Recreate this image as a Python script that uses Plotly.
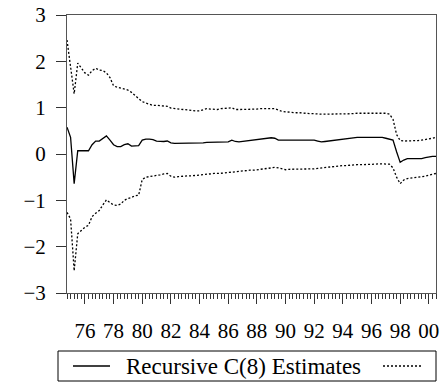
import plotly.graph_objects as go

# ---- data (quarterly, 1974Q4 .. 2000Q3) ----
start_year = 1974.75
recursive_c8 = [
    0.58, 0.36, -0.64, 0.07, 0.07, 0.07, 0.07, 0.20, 0.28, 0.28,
    0.33, 0.39, 0.30, 0.20, 0.16, 0.16, 0.20, 0.22, 0.17, 0.17,
    0.18, 0.30, 0.32, 0.32, 0.31, 0.28, 0.27, 0.27, 0.28, 0.24,
    0.23, 0.23, 0.23, 0.23, 0.23, 0.23, 0.23, 0.23, 0.24, 0.25,
    0.25, 0.26, 0.26, 0.26, 0.26, 0.26, 0.30, 0.27, 0.26, 0.27,
    0.28, 0.30, 0.31, 0.32, 0.32, 0.33, 0.34, 0.35, 0.34, 0.30,
    0.30, 0.30, 0.30, 0.30, 0.30, 0.30, 0.30, 0.30, 0.30, 0.30,
    0.28, 0.26, 0.27, 0.28, 0.29, 0.30, 0.31, 0.33, 0.34, 0.35,
    0.36, 0.36, 0.36, 0.36, 0.37, 0.37, 0.37, 0.37, 0.36, 0.34,
    0.32, 0.30, 0.05, -0.18, -0.13, -0.10, -0.10, -0.10, -0.10, -0.10,
    -0.08, -0.06, -0.05, -0.05,
]
upper_2se = [
    2.46, 1.90, 1.30, 1.96, 1.85, 1.75, 1.70, 1.80, 1.85, 1.81,
    1.80, 1.75, 1.65, 1.47, 1.44, 1.42, 1.40, 1.38, 1.33, 1.27,
    1.20, 1.13, 1.10, 1.07, 1.05, 1.05, 1.04, 1.03, 1.03, 0.99,
    0.98, 0.97, 0.97, 0.96, 0.95, 0.94, 0.93, 0.93, 0.95, 0.98,
    0.97, 0.96, 0.96, 0.98, 0.98, 0.99, 1.00, 0.96, 0.96, 0.96,
    0.97, 0.97, 0.97, 0.97, 0.98, 0.98, 0.98, 0.98, 0.98, 0.95,
    0.92, 0.91, 0.90, 0.90, 0.89, 0.89, 0.88, 0.88, 0.87, 0.87,
    0.86, 0.86, 0.86, 0.86, 0.86, 0.86, 0.87, 0.87, 0.87, 0.87,
    0.87, 0.88, 0.88, 0.88, 0.88, 0.89, 0.89, 0.89, 0.89, 0.88,
    0.86, 0.75, 0.42, 0.29, 0.28, 0.28, 0.28, 0.29, 0.29, 0.30,
    0.31, 0.33, 0.34, 0.36,
]
lower_2se = [
    -1.26, -1.40, -2.52, -1.72, -1.65, -1.58, -1.54, -1.35, -1.28, -1.22,
    -1.10, -0.99, -1.05, -1.10, -1.11, -1.08, -1.00, -0.96, -0.94, -0.90,
    -0.89, -0.55, -0.50, -0.49, -0.48, -0.47, -0.45, -0.43, -0.42, -0.48,
    -0.50, -0.49, -0.48, -0.48, -0.47, -0.47, -0.46, -0.46, -0.45, -0.44,
    -0.43, -0.42, -0.42, -0.42, -0.41, -0.40, -0.39, -0.38, -0.37, -0.37,
    -0.36, -0.35, -0.35, -0.34, -0.33, -0.32, -0.31, -0.30, -0.29, -0.30,
    -0.32, -0.34, -0.33, -0.33, -0.33, -0.33, -0.32, -0.32, -0.32, -0.32,
    -0.31, -0.30, -0.30, -0.29, -0.28, -0.27, -0.26, -0.25, -0.25, -0.24,
    -0.24, -0.23, -0.23, -0.23, -0.22, -0.22, -0.22, -0.21, -0.21, -0.21,
    -0.22, -0.30, -0.50, -0.64, -0.56, -0.53, -0.52, -0.51, -0.50, -0.50,
    -0.48, -0.46, -0.44, -0.42,
]
year_ticks = list(range(1975, 2001))
year_labels = ["76", "78", "80", "82", "84", "86", "88", "90", "92", "94", "96", "98", "00"]
y_ticks = [-3, -2, -1, 0, 1, 2, 3]
legend_label = "Recursive C(8) Estimates"

n = len(recursive_c8)
x = [start_year + 0.25 * i for i in range(n)]
quarter_ticks = [start_year + 0.25 * i for i in range(n)]
label_map = {1976 + 2 * k: lab for k, lab in enumerate(year_labels)}
tick_text = [label_map.get(y, "") for y in year_ticks]
x_range = [start_year, start_year + 0.25 * (n - 1)]

FONT = "Liberation Serif"
W, H = 447, 383
ML, MR, MT, MB = 67, 11, 15, 90
PW, PH = W - ML - MR, H - MT - MB


def px(xp):
    return (xp - ML) / PW


def py(yp):
    return (H - MB - yp) / PH


fig = go.Figure()
fig.add_trace(go.Scatter(
    x=x, y=recursive_c8, mode="lines", name=legend_label,
    line=dict(color="black", width=1.3),
))
fig.add_trace(go.Scatter(
    x=x, y=upper_2se, mode="lines", name="+2 S.E.",
    line=dict(color="black", width=1.3, dash="2px,2px"),
))
fig.add_trace(go.Scatter(
    x=x, y=lower_2se, mode="lines", name="-2 S.E.",
    line=dict(color="black", width=1.3, dash="2px,2px"),
))

# legend box drawn to mimic the EViews legend
shapes = [
    dict(type="rect", xref="paper", yref="paper",
         x0=px(58), x1=px(436), y0=py(351), y1=py(381),
         line=dict(color="black", width=1)),
    dict(type="line", xref="paper", yref="paper",
         x0=px(73), x1=px(110), y0=py(366), y1=py(366),
         line=dict(color="black", width=1.3)),
    dict(type="line", xref="paper", yref="paper",
         x0=px(383), x1=px(423), y0=py(366), y1=py(366),
         line=dict(color="black", width=1.3, dash="2px,2px")),
]
annotations = [
    dict(text=legend_label, xref="paper", yref="paper",
         x=px(124), y=py(366), xanchor="left", yanchor="middle",
         showarrow=False, font=dict(family=FONT, size=23, color="black")),
]

fig.update_layout(
    width=W, height=H,
    margin=dict(l=ML, r=MR, t=MT, b=MB, autoexpand=False),
    paper_bgcolor="white", plot_bgcolor="white",
    font=dict(family=FONT, size=21, color="black"),
    showlegend=False,
    shapes=shapes, annotations=annotations,
    xaxis=dict(
        range=x_range,
        tickmode="array", tickvals=year_ticks, ticktext=tick_text,
        ticks="outside", ticklen=10, tickcolor="#333", tickwidth=1,
        showgrid=False, zeroline=False, automargin=False,
        showline=True, linecolor="#555", linewidth=1, mirror=True,
        ticklabelstandoff=9,
        minor=dict(tickmode="array", tickvals=quarter_ticks,
                   ticks="outside", ticklen=5, tickcolor="#333",
                   tickwidth=1, showgrid=False),
        tickfont=dict(family=FONT, size=21),
    ),
    yaxis=dict(
        range=[-3, 3], tickmode="array", tickvals=y_ticks,
        ticks="outside", ticklen=10, tickcolor="#333", tickwidth=1,
        showgrid=False, zeroline=False, automargin=False,
        showline=True, linecolor="#555", linewidth=1, mirror=True,
        ticklabelstandoff=6,
        tickfont=dict(family=FONT, size=21),
    ),
)

fig.write_html(
    "out.html",
    config={"displayModeBar": False},
    post_script="document.body.style.margin='0';document.body.style.padding='0';",
)
